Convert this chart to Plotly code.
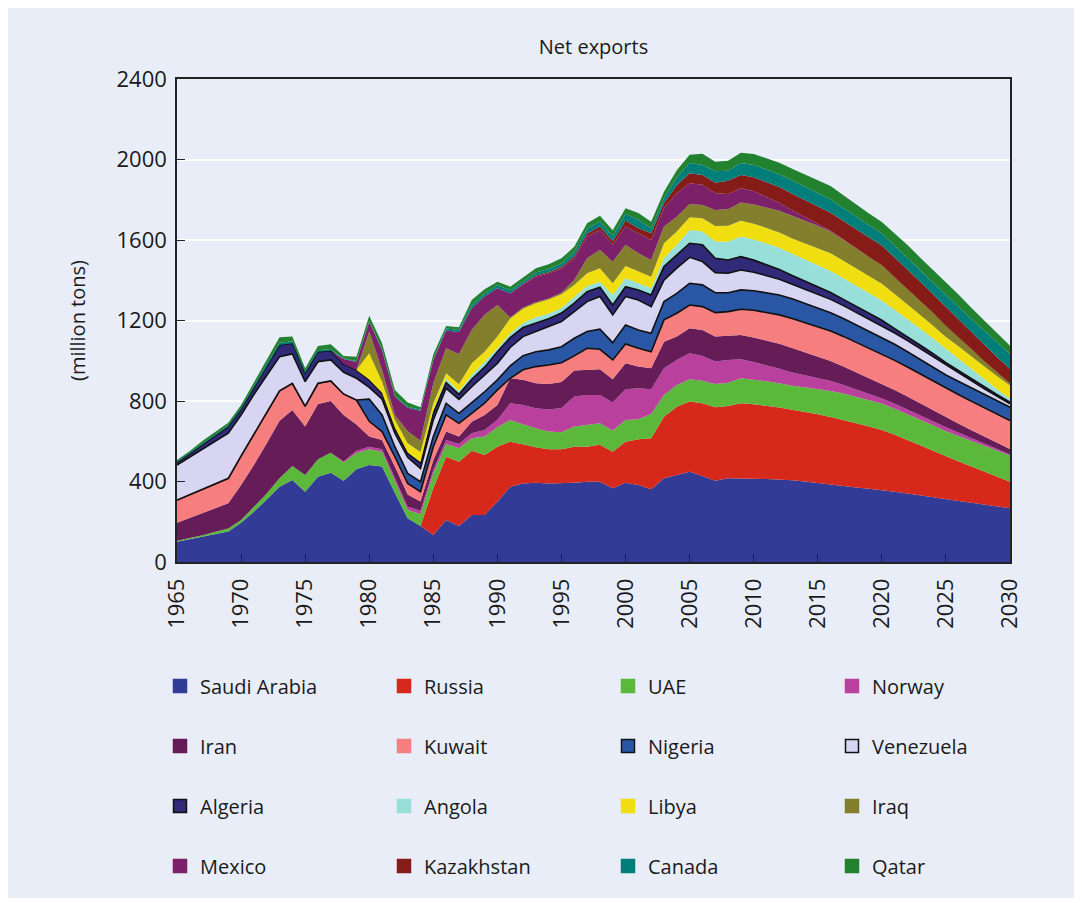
import plotly.graph_objects as go

years = list(range(1965, 2031))

countries = ["Saudi Arabia", "Russia", "UAE", "Norway", "Iran", "Kuwait", "Nigeria", "Venezuela",
             "Algeria", "Angola", "Libya", "Iraq", "Mexico", "Kazakhstan", "Canada", "Qatar"]

saudi_arabia = [101, 113, 125, 138, 151, 195, 250, 310, 374, 408, 349, 424, 444, 404, 461, 482, 474, 344, 217, 179,
                134, 209, 179, 234, 234, 300, 374, 390, 394, 390, 391, 394, 399, 399, 366, 394, 383, 361, 416, 432,
                449, 427, 404, 416, 416,
                414, 412, 410, 406, 400, 392, 383, 377, 370, 364, 358, 349, 340, 330, 321, 312, 303, 294, 285, 276, 267]
russia = [0] * 20 + [232, 314, 319, 319, 298, 273, 224, 195, 176, 170, 169, 179, 174, 183, 182, 204, 227, 254, 306, 340,
                     348, 362, 365, 359, 373,
                     370, 365, 358, 350, 346, 342, 337, 329, 319, 309, 298, 283, 267, 250, 232, 213, 197, 180, 165, 148, 132]
uae = [5, 6, 8, 12, 16, 14, 22, 30, 42, 69, 83, 86, 99, 90, 80, 78, 74, 55, 41, 60,
       75, 63, 67, 62, 91, 96, 108, 100, 94, 88, 85, 100, 108, 107, 105, 108, 99, 121, 108, 108,
       111, 112, 116, 116, 124,
       122, 121, 120, 120, 122, 126, 130, 131, 131, 131, 131, 130, 128, 127, 126, 125, 126, 127, 128, 129, 130]
norway = [0] * 13 + [5, 12, 13, 12, 15, 17, 16, 16, 20, 21, 25, 33, 37, 83, 95, 100, 110, 120, 149, 149, 141, 139,
                     152, 154, 122, 133, 124, 129, 123, 111, 113, 94,
                     88, 80, 72, 65, 60, 55, 50, 43, 37, 31, 26, 24, 23, 22, 21, 19, 16, 13, 10, 7, 5]
iran = [89, 100, 110, 118, 125, 174, 210, 250, 286, 278, 241, 275, 257, 232, 130, 50, 46, 60, 60, 46,
        50, 42, 37, 57, 75, 74, 124, 125, 124, 126, 130, 129, 124, 128, 116, 129, 108, 105, 132, 116,
        124, 129, 124, 119, 121,
        122, 123, 124, 122, 114, 106, 99, 92, 86, 80, 74, 69, 64, 59, 54, 49, 45, 41, 36, 32, 28]
kuwait = [113, 117, 120, 122, 124, 144, 155, 152, 149, 133, 102, 103, 100, 104, 122, 76, 42, 49, 55, 48,
          66, 83, 66, 42, 58, 75, 0, 50, 83, 95, 95, 73, 108, 99, 96, 96, 91, 82, 108, 116,
          116, 116, 119, 121, 128,
          135, 140, 144, 147, 148, 149, 149, 149, 148, 148, 148, 147, 147, 146, 146, 145, 144, 143, 142, 142, 141]
nigeria = [0] * 15 + [110, 83, 50, 50, 50, 50, 58, 49, 53, 57, 50, 62, 70, 74, 75, 80, 88, 83, 100, 86,
                      95, 91, 92, 91, 99, 108, 108, 99, 94, 96,
                      97, 98, 99, 98, 96, 93, 91, 89, 87, 85, 83, 80, 76, 73, 69, 66, 66, 66, 66, 66, 66]
venezuela = [174, 185, 200, 212, 224, 203, 195, 185, 169, 146, 121, 107, 104, 108, 108, 59, 78, 67, 80, 65,
             83, 74, 70, 79, 83, 82, 91, 95, 100, 115, 125, 132, 149, 162, 138, 141, 149, 132, 107, 125,
             129, 116, 100, 97, 99,
             92, 85, 78, 72, 70, 68, 66, 64, 62, 60, 58, 56, 55, 53, 51, 48, 42, 35, 29, 23, 17]
algeria = [12, 17, 23, 28, 33, 29, 35, 45, 58, 53, 42, 50, 46, 41, 41, 37, 29, 24, 20, 28,
           33, 28, 25, 37, 39, 58, 49, 45, 41, 40, 42, 42, 49, 46, 49, 49, 50, 58, 67, 66,
           70, 83, 71, 66, 66,
           60, 54, 49, 44, 40, 37, 34, 31, 29, 27, 25, 22, 20, 17, 15, 13, 12, 11, 10, 9, 8]
angola = [0] * 15 + [2, 3, 4, 5, 5, 15, 22, 15, 21, 25, 17, 20, 22, 30, 25, 25, 33, 29, 28, 50,
                     42, 33, 33, 41, 50, 66, 66, 83, 90, 100,
                     103, 105, 107, 108, 108, 108, 107, 105, 103, 101, 99, 94, 88, 82, 76, 70, 60, 49, 38, 27, 17]
libya = [0] * 15 + [130, 55, 38, 45, 50, 35, 25, 35, 58, 52, 58, 75, 72, 70, 70, 68, 58, 63, 67, 58,
                    61, 58, 58, 75, 66, 63, 66, 78, 80, 79,
                    78, 77, 76, 76, 80, 85, 88, 87, 86, 85, 83, 78, 73, 68, 63, 58, 60, 61, 63, 64, 66]
iraq = [0] * 15 + [108, 58, 25, 60, 55, 99, 124, 150, 166, 183, 157, 5, 5, 5, 5, 8, 24, 74, 91, 107,
                   105, 91, 83, 83, 74, 66, 66, 79, 82, 90,
                   96, 102, 108, 112, 112, 110, 108, 104, 100, 95, 91, 84, 77, 70, 63, 57, 47, 37, 27, 18, 10]
mexico = [0] * 13 + [25, 40, 49, 100, 91, 117, 150, 116, 88, 110, 108, 91, 83, 120, 115, 127, 125, 120, 108, 108,
                     99, 85, 91, 100, 99, 91, 116, 103, 100, 83, 75, 71,
                     65, 52, 40, 28, 18, 10, 5, 2] + [0] * 13
kazakhstan = [0] * 27 + [3, 5, 6, 8, 12, 15, 17, 17, 30, 25, 33, 25, 40, 50, 49, 53, 66, 66,
                         70, 74, 78, 82, 84, 86, 88, 91, 94, 97, 99, 98, 97, 95, 93, 92, 88, 84, 80, 77, 73]
canada = [6, 6, 6, 6, 7, 8, 9, 10, 12, 10, 8, 8, 6, 3, 3, 4, 4, 4, 5, 5,
          5, 10, 10, 15, 15, 15, 15, 12, 15, 16, 18, 21, 25, 25, 25, 33, 42, 25, 25, 40,
          50, 50, 57, 50, 59,
          61, 63, 64, 66, 66, 66, 66, 64, 62, 60, 59, 59, 59, 58, 58, 58, 61, 65, 68, 71, 74]
qatar = [7, 8, 10, 11, 12, 13, 16, 20, 27, 23, 17, 20, 26, 12, 23, 25, 29, 29, 20, 12,
         23, 13, 13, 26, 21, 18, 18, 20, 22, 24, 25, 25, 26, 28, 29, 28, 33, 33, 32, 35,
         41, 55, 47, 50, 52,
         54, 55, 57, 58, 61, 64, 67, 64, 61, 59, 57, 59, 61, 62, 64, 66, 61, 56, 51, 46, 41]

series = [saudi_arabia, russia, uae, norway, iran, kuwait, nigeria, venezuela,
          algeria, angola, libya, iraq, mexico, kazakhstan, canada, qatar]

colors = ["#323C96", "#D7291B", "#5CB83A", "#BA409D", "#661D57", "#F77E7E", "#2A57A5", "#D8D5F2",
          "#302A78", "#98DFD9", "#F0DE10", "#837F2C", "#7C2169", "#861C17", "#007E7A", "#22822F"]
outlined = {"Nigeria", "Venezuela", "Algeria"}

BG = "#E9EDF8"
FONT = "Open Sans"
TXT = "#1a1a1a"

# figure geometry (the page adds an 8px body margin)
W, H = 1068, 890
plot_left, plot_right, plot_top, plot_bottom = 169, 1002, 71, 554
ph = plot_bottom - plot_top
pw = plot_right - plot_left

fig = go.Figure()

for name, vals, col in zip(countries, series, colors):
    lw = 1.6 if name in outlined else 0
    fig.add_trace(go.Scatter(
        x=years, y=vals, name=name, mode="lines", stackgroup="one",
        line=dict(color="#111111" if name in outlined else col, width=lw),
        fillcolor=col, showlegend=False, hoverinfo="x+y+name"))
    if name == "Kuwait":
        # black outline along the lower edge of Nigeria
        fig.add_trace(go.Scatter(
            x=years, y=[0] * len(years), mode="lines", stackgroup="one",
            line=dict(color="#111111", width=1.6), fillcolor="rgba(0,0,0,0)",
            showlegend=False, hoverinfo="skip"))

legend_names = ["legend", "legend2", "legend3", "legend4"]
for i, (name, col) in enumerate(zip(countries, colors)):
    fig.add_trace(go.Scatter(
        x=[None], y=[None], mode="markers", name=name,
        legend=legend_names[i // 4],
        marker=dict(symbol="square", size=13, color=col,
                    line=dict(color="#111111" if name in outlined else col, width=1.5))))

row_y = [678, 738, 798, 858]
legend_cfg = {}
for lname, ry in zip(legend_names, row_y):
    legend_cfg[lname] = dict(
        orientation="h", traceorder="normal",
        x=(152 - plot_left) / pw, xanchor="left",
        y=(plot_bottom - ry) / ph, yanchor="middle",
        entrywidth=179, entrywidthmode="pixels",
        bgcolor="rgba(0,0,0,0)", font=dict(family=FONT, size=20, color=TXT),
        itemclick=False, itemdoubleclick=False)

fig.update_layout(
    width=W, height=H,
    margin=dict(l=plot_left, r=W - plot_right, t=plot_top, b=H - plot_bottom),
    paper_bgcolor=BG, plot_bgcolor=BG,
    font=dict(family=FONT, size=20, color=TXT),
    title=dict(text="Net exports", x=0.5, xref="paper", xanchor="center",
               y=1 - 39 / H, yref="container", yanchor="middle",
               font=dict(family=FONT, size=20, color=TXT)),
    xaxis=dict(range=[1965, 2030], dtick=5, tick0=1965, tickangle=-90,
               ticks="inside", ticklen=8, tickcolor="#222222", ticklabelstandoff=6,
               showline=True, linecolor="#222222", linewidth=1.5, mirror=True,
               showgrid=False, zeroline=False,
               tickfont=dict(family=FONT, size=22, color=TXT)),
    yaxis=dict(range=[0, 2400], dtick=400, tick0=0,
               ticks="inside", ticklen=8, tickcolor="#222222", ticklabelstandoff=4,
               showline=True, linecolor="#222222", linewidth=1.5, mirror=True,
               showgrid=True, gridcolor="white", gridwidth=1.5, zeroline=False,
               tickfont=dict(family=FONT, size=22, color=TXT),
               title=dict(text="(million tons)", standoff=26,
                          font=dict(family=FONT, size=20, color=TXT))),
    **legend_cfg,
)

fig.write_html("out.html")
